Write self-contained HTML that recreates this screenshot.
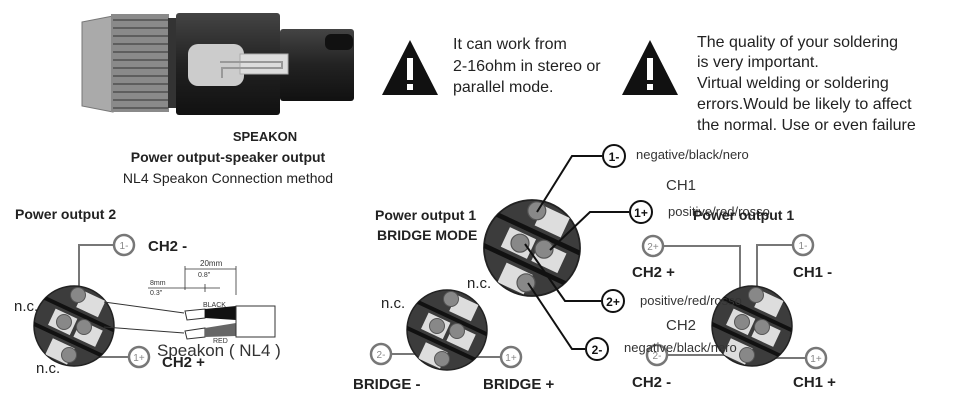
<!DOCTYPE html>
<html><head><meta charset="utf-8"><style>
html,body{margin:0;padding:0;background:#fff}
svg{display:block}
text{font-family:"Liberation Sans","DejaVu Sans",sans-serif}
.b{font-weight:bold}
</style></head><body>
<svg width="954" height="400" viewBox="0 0 954 400" xmlns="http://www.w3.org/2000/svg">
<defs>
<clipPath id="cc"><circle r="40"/></clipPath>
<linearGradient id="gb" x1="0" y1="0" x2="0" y2="1"><stop offset="0" stop-color="#444"/><stop offset="0.5" stop-color="#222"/><stop offset="1" stop-color="#111"/></linearGradient>
<g id="con">
  <circle r="40" fill="#3c3c3c" stroke="#222" stroke-width="1.5"/>
  <g clip-path="url(#cc)"><g transform="rotate(25)">
    <rect x="-44" y="-15" width="88" height="4" fill="#111"/>
    <rect x="-44" y="13" width="88" height="4" fill="#111"/>
    <rect x="-6" y="-36" width="24" height="18" fill="#ddd"/>
    <rect x="-24" y="-8" width="24" height="18" fill="#ddd"/>
    <rect x="4" y="-8" width="24" height="18" fill="#ddd"/>
    <rect x="-14" y="20" width="24" height="18" fill="#ddd"/>
  </g></g>
  <circle cx="4" cy="-31" r="7.5" fill="#888" stroke="#555"/>
  <circle cx="-10" cy="-4" r="7.5" fill="#888" stroke="#555"/>
  <circle cx="10" cy="1" r="7.5" fill="#888" stroke="#555"/>
  <circle cx="-5" cy="29" r="7.5" fill="#888" stroke="#555"/>
</g>
</defs>

<!-- top speakon image -->
<polygon points="82,22 113,16 113,112 82,106" fill="#aaa" stroke="#777"/>
<rect x="111" y="14" width="58" height="98" fill="#8a8a8a"/>
<g stroke="#444" stroke-width="1.2">
<line x1="113" y1="20" x2="168" y2="20"/><line x1="113" y1="28" x2="168" y2="28"/><line x1="113" y1="36" x2="168" y2="36"/><line x1="113" y1="44" x2="168" y2="44"/><line x1="113" y1="52" x2="168" y2="52"/><line x1="113" y1="60" x2="168" y2="60"/><line x1="113" y1="68" x2="168" y2="68"/><line x1="113" y1="76" x2="168" y2="76"/><line x1="113" y1="84" x2="168" y2="84"/><line x1="113" y1="92" x2="168" y2="92"/><line x1="113" y1="100" x2="168" y2="100"/><line x1="113" y1="108" x2="168" y2="108"/></g>
<rect x="168" y="18" width="10" height="90" fill="#333"/>
<rect x="176" y="13" width="104" height="102" rx="3" fill="url(#gb)"/>
<rect x="280" y="29" width="74" height="72" rx="3" fill="url(#gb)"/>
<rect x="325" y="34" width="28" height="16" rx="6" fill="#111"/>
<rect x="188" y="44" width="56" height="42" rx="10" fill="#ccc"/>
<rect x="240" y="54" width="48" height="20" fill="#ddd" stroke="#aaa"/>
<polyline points="220,62 282,62 282,68 222,68 222,78" fill="none" stroke="#999" stroke-width="2"/>

<text x="265" y="141" font-size="13" class="b" text-anchor="middle" fill="#222">SPEAKON</text>
<text x="228" y="162" font-size="14" class="b" text-anchor="middle" fill="#222">Power output-speaker output</text>
<text x="228" y="183" font-size="14" text-anchor="middle" fill="#222">NL4 Speakon Connection method</text>

<!-- warnings -->
<polygon points="410,40 382,95 438,95" fill="#111"/>
<rect x="407" y="58" width="6" height="22" fill="#fff"/><rect x="407" y="84" width="6" height="6" fill="#fff"/>
<text font-size="16" fill="#222"><tspan x="453" y="49">It can work from</tspan><tspan x="453" y="71">2-16ohm in stereo or</tspan><tspan x="453" y="92">parallel mode.</tspan></text>
<polygon points="650,40 622,95 678,95" fill="#111"/>
<rect x="647" y="58" width="6" height="22" fill="#fff"/><rect x="647" y="84" width="6" height="6" fill="#fff"/>
<text font-size="16" fill="#222"><tspan x="697" y="47">The quality of your soldering</tspan><tspan x="697" y="67">is very important.</tspan><tspan x="697" y="88">Virtual welding or soldering</tspan><tspan x="697" y="109">errors.Would be likely to affect</tspan><tspan x="697" y="130">the normal. Use or even failure</tspan></text>

<!-- Left: Power output 2 -->
<text x="15" y="219" font-size="14" class="b" fill="#222">Power output 2</text>
<polyline points="79,296 79,245 113,245" fill="none" stroke="#777" stroke-width="2"/>
<polyline points="86,320 86,357 128,357" fill="none" stroke="#777" stroke-width="2"/>
<use href="#con" x="74" y="326"/>
<circle cx="124" cy="245" r="10" fill="#fff" stroke="#777" stroke-width="2.5"/><text x="124" y="249" font-size="10" fill="#888" text-anchor="middle">1-</text>
<circle cx="139" cy="357" r="10" fill="#fff" stroke="#777" stroke-width="2.5"/><text x="139" y="361" font-size="10" fill="#888" text-anchor="middle">1+</text>
<text x="148" y="251" font-size="15" class="b" fill="#222">CH2 -</text>
<text x="162" y="367" font-size="15" class="b" fill="#222">CH2 +</text>
<text x="14" y="311" font-size="15" fill="#222">n.c.</text>
<text x="36" y="373" font-size="15" fill="#222">n.c.</text>
<line x1="104" y1="302" x2="184" y2="313" stroke="#333"/>
<line x1="104" y1="327" x2="184" y2="333" stroke="#333"/>
<polygon points="185,311 205,309 205,318 187,320" fill="#fff" stroke="#333"/>
<polygon points="185,331 205,328 205,337 187,339" fill="#fff" stroke="#333"/>
<polygon points="205,309 236,306 236,320 205,318" fill="#111"/>
<polygon points="205,328 236,323 236,336 205,337" fill="#666"/>
<rect x="236" y="306" width="39" height="31" fill="#fff" stroke="#333"/>
<text x="203" y="307" font-size="7" fill="#333">BLACK</text>
<text x="213" y="343" font-size="7" fill="#333">RED</text>
<g stroke="#333" stroke-width="0.8" fill="none"><line x1="185" y1="269" x2="236" y2="269"/><line x1="185" y1="266" x2="185" y2="290"/><line x1="236" y1="266" x2="236" y2="295"/><line x1="148" y1="288" x2="220" y2="288"/><line x1="205" y1="284" x2="205" y2="292"/></g>
<text x="200" y="266" font-size="8" fill="#333">20mm</text><text x="198" y="277" font-size="7" fill="#333">0.8"</text>
<text x="150" y="285" font-size="7" fill="#333">8mm</text><text x="150" y="295" font-size="7" fill="#333">0.3"</text>
<text x="157" y="356" font-size="17" fill="#333">Speakon ( NL4 )</text>

<!-- Bridge -->
<text x="375" y="220" font-size="14" class="b" fill="#222">Power output 1</text>
<text x="377" y="240" font-size="14" class="b" fill="#222">BRIDGE MODE</text>
<polyline points="392,354 443,354" fill="none" stroke="#777" stroke-width="2"/>
<polyline points="457,332 458,357 500,357" fill="none" stroke="#777" stroke-width="2"/>
<use href="#con" x="447" y="330"/>
<circle cx="381" cy="354" r="10" fill="#fff" stroke="#777" stroke-width="2.5"/><text x="381" y="358" font-size="10" fill="#888" text-anchor="middle">2-</text>
<circle cx="511" cy="357" r="10" fill="#fff" stroke="#777" stroke-width="2.5"/><text x="511" y="361" font-size="10" fill="#888" text-anchor="middle">1+</text>
<text x="353" y="389" font-size="15" class="b" fill="#222">BRIDGE -</text>
<text x="483" y="389" font-size="15" class="b" fill="#222">BRIDGE +</text>
<text x="381" y="308" font-size="15" fill="#222">n.c.</text>
<text x="467" y="288" font-size="15" fill="#222">n.c.</text>

<!-- Middle big connector -->
<use href="#con" transform="translate(532,248) scale(1.2)"/>
<g fill="none" stroke="#111" stroke-width="2">
<polyline points="537,212 572,156 602,156"/>
<polyline points="550,250 590,212 629,212"/>
<polyline points="525,244 565,301 601,301"/>
<polyline points="528,283 572,349 585,349"/>
</g>
<g font-size="12" class="b" text-anchor="middle" fill="#111">
<circle cx="614" cy="156" r="11" fill="#fff" stroke="#111" stroke-width="2"/><text x="614" y="161">1-</text>
<circle cx="641" cy="212" r="11" fill="#fff" stroke="#111" stroke-width="2"/><text x="641" y="217">1+</text>
<circle cx="613" cy="301" r="11" fill="#fff" stroke="#111" stroke-width="2"/><text x="613" y="306">2+</text>
<circle cx="597" cy="349" r="11" fill="#fff" stroke="#111" stroke-width="2"/><text x="597" y="354">2-</text>
</g>

<!-- Right -->
<polyline points="664,246 740,246 740,318" fill="none" stroke="#777" stroke-width="2"/>
<polyline points="792,245 757,245 757,297" fill="none" stroke="#777" stroke-width="2"/>
<polyline points="668,355 745,355" fill="none" stroke="#777" stroke-width="2"/>
<polyline points="762,328 762,358 805,358" fill="none" stroke="#777" stroke-width="2"/>
<use href="#con" x="752" y="326"/>
<g font-size="10" fill="#888" text-anchor="middle">
<circle cx="653" cy="246" r="10" fill="#fff" stroke="#777" stroke-width="2.5"/><text x="653" y="250">2+</text>
<circle cx="803" cy="245" r="10" fill="#fff" stroke="#777" stroke-width="2.5"/><text x="803" y="249">1-</text>
<circle cx="657" cy="355" r="10" fill="#fff" stroke="#777" stroke-width="2.5"/><text x="657" y="359">2-</text>
<circle cx="816" cy="358" r="10" fill="#fff" stroke="#777" stroke-width="2.5"/><text x="816" y="362">1+</text>
</g>
<text x="632" y="277" font-size="15" class="b" fill="#222">CH2 +</text>
<text x="793" y="277" font-size="15" class="b" fill="#222">CH1 -</text>
<text x="632" y="387" font-size="15" class="b" fill="#222">CH2 -</text>
<text x="793" y="387" font-size="15" class="b" fill="#222">CH1 +</text>

<text x="636" y="159" font-size="13" fill="#333">negative/black/nero</text>
<text x="666" y="190" font-size="15" fill="#333">CH1</text>
<text x="668" y="216" font-size="13" fill="#333">positive/red/rosso</text>
<text x="693" y="220" font-size="14" class="b" fill="#222">Power output 1</text>
<text x="640" y="305" font-size="13" fill="#333">positive/red/rosso</text>
<text x="666" y="330" font-size="15" fill="#333">CH2</text>
<text x="624" y="352" font-size="13" fill="#333">negative/black/nero</text>
</svg>
</body></html>
